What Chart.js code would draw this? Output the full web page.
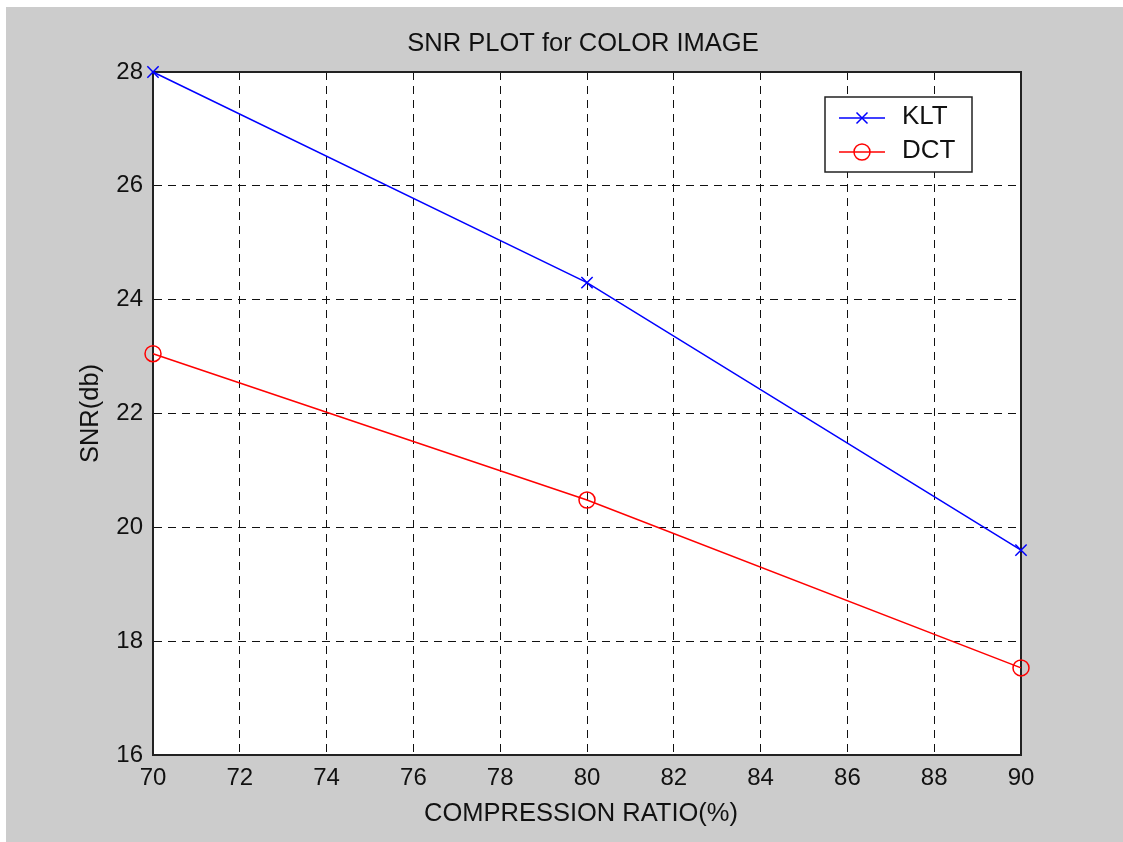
<!DOCTYPE html>
<html>
<head>
<meta charset="utf-8">
<title>SNR PLOT for COLOR IMAGE</title>
<script src="https://cdn.jsdelivr.net/npm/chart.js@4/dist/chart.umd.min.js"></script>
<style>
  html, body { margin: 0; padding: 0; background: #ffffff; }
  #wrap { width: 1123px; height: 842px; }
  canvas { display: block; }
</style>
</head>
<body>
<div id="wrap"><canvas id="snr" width="1123" height="842"></canvas></div>
<script>
// Compression ratio (%) on the x axis
const compressionRatio = [70, 80, 90];
// SNR (dB) for each transform
const kltSNR = [28.0, 24.3, 19.6];
const dctSNR = [23.05, 20.48, 17.53];
// Axis tick values
const xTickValues = [70, 72, 74, 76, 78, 80, 82, 84, 86, 88, 90];
const yTickValues = [16, 18, 20, 22, 24, 26, 28];
// Text
const chartTitle = 'SNR PLOT for COLOR IMAGE';
const xAxisTitle = 'COMPRESSION RATIO(%)';
const yAxisTitle = 'SNR(db)';
const seriesNames = ['KLT', 'DCT'];

const FONT = '"Liberation Sans", Arial, Helvetica, sans-serif';

// Figure background, white axes box, titles and the inset legend
const figurePlugin = {
  id: 'figure',
  beforeDraw(chart) {
    const { ctx, chartArea: a } = chart;
    ctx.save();
    ctx.fillStyle = '#ffffff';
    ctx.fillRect(0, 0, chart.width, chart.height);
    ctx.fillStyle = '#cccccc';
    ctx.fillRect(6, 7, chart.width - 6, chart.height - 7);
    ctx.fillStyle = '#ffffff';
    ctx.fillRect(a.left, a.top, a.right - a.left, a.bottom - a.top);
    ctx.restore();
  },
  beforeDatasetsDraw(chart) {
    const { ctx, chartArea: a } = chart;
    ctx.save();
    ctx.strokeStyle = '#222222';
    ctx.lineWidth = 2;
    ctx.setLineDash([]);
    ctx.strokeRect(a.left, a.top, a.right - a.left, a.bottom - a.top);
    ctx.restore();
  },
  afterDraw(chart) {
    const { ctx, chartArea: a } = chart;
    const cx = (a.left + a.right) / 2 - 4;
    ctx.save();
    ctx.fillStyle = '#111111';
    ctx.font = '25.5px ' + FONT;
    ctx.textAlign = 'center';
    ctx.textBaseline = 'alphabetic';
    ctx.fillText(chartTitle, cx, 51);
    ctx.textBaseline = 'middle';
    ctx.fillText(xAxisTitle, cx - 2, 814);
    ctx.save();
    ctx.translate(91, (a.top + a.bottom) / 2);
    ctx.rotate(-Math.PI / 2);
    ctx.fillText(yAxisTitle, 0, 0);
    ctx.restore();

    // legend box
    const lx = 825, ly = 97, lw = 147, lh = 75;
    ctx.fillStyle = '#ffffff';
    ctx.fillRect(lx, ly, lw, lh);
    ctx.strokeStyle = '#222222';
    ctx.lineWidth = 1.5;
    ctx.strokeRect(lx, ly, lw, lh);
    const rows = [118, 152];
    chart.data.datasets.forEach((ds, i) => {
      const y = rows[i];
      ctx.strokeStyle = ds.borderColor;
      ctx.lineWidth = 1.5;
      ctx.beginPath();
      ctx.moveTo(839, y);
      ctx.lineTo(885, y);
      ctx.stroke();
      const mx = 862;
      ctx.beginPath();
      if (ds.pointStyle === 'crossRot') {
        const d = 5.5;
        ctx.moveTo(mx - d, y - d); ctx.lineTo(mx + d, y + d);
        ctx.moveTo(mx - d, y + d); ctx.lineTo(mx + d, y - d);
      } else {
        ctx.arc(mx, y, 8, 0, Math.PI * 2);
      }
      ctx.stroke();
      ctx.fillStyle = '#111111';
      ctx.font = '26px ' + FONT;
      ctx.textAlign = 'left';
      ctx.textBaseline = 'middle';
      ctx.fillText(ds.label, 902, y - 1);
    });
    ctx.restore();
  }
};

new Chart(document.getElementById('snr'), {
  type: 'line',
  data: {
    datasets: [
      {
        label: seriesNames[0],
        data: compressionRatio.map((x, i) => ({ x, y: kltSNR[i] })),
        borderColor: '#0000ff',
        backgroundColor: 'rgba(0,0,0,0)',
        borderWidth: 1.5,
        pointStyle: 'crossRot',
        pointRadius: 8,
        pointBorderWidth: 1.5,
        pointBorderColor: '#0000ff',
        pointBackgroundColor: 'rgba(0,0,0,0)',
        tension: 0,
        clip: false
      },
      {
        label: seriesNames[1],
        data: compressionRatio.map((x, i) => ({ x, y: dctSNR[i] })),
        borderColor: '#ff0000',
        backgroundColor: 'rgba(0,0,0,0)',
        borderWidth: 1.5,
        pointStyle: 'circle',
        pointRadius: 8,
        pointBorderWidth: 1.5,
        pointBorderColor: '#ff0000',
        pointBackgroundColor: 'rgba(0,0,0,0)',
        tension: 0,
        clip: false
      }
    ]
  },
  options: {
    responsive: false,
    animation: false,
    devicePixelRatio: 1,
    layout: { padding: { left: 0, top: 72, right: 102, bottom: 0 } },
    plugins: {
      legend: { display: false },
      title: { display: false },
      tooltip: { enabled: false }
    },
    scales: {
      x: {
        type: 'linear',
        min: 70,
        max: 90,
        afterBuildTicks(scale) { scale.ticks = xTickValues.map(v => ({ value: v })); },
        afterFit(scale) { scale.height = 87; },
        grid: { color: '#111111', lineWidth: 1, drawTicks: false },
        border: { display: true, color: '#222222', width: 2, dash: [8, 6] },
        ticks: {
          color: '#111111',
          font: { family: FONT, size: 24 },
          padding: 9,
          maxRotation: 0,
          autoSkip: false
        }
      },
      y: {
        type: 'linear',
        min: 16,
        max: 28,
        afterBuildTicks(scale) { scale.ticks = yTickValues.map(v => ({ value: v })); },
        afterFit(scale) { scale.width = 153; },
        grid: { color: '#111111', lineWidth: 1, drawTicks: false },
        border: { display: true, color: '#222222', width: 2, dash: [8, 6] },
        ticks: {
          color: '#111111',
          font: { family: FONT, size: 24 },
          padding: 10,
          autoSkip: false
        }
      }
    }
  },
  plugins: [figurePlugin]
});
</script>
</body>
</html>
